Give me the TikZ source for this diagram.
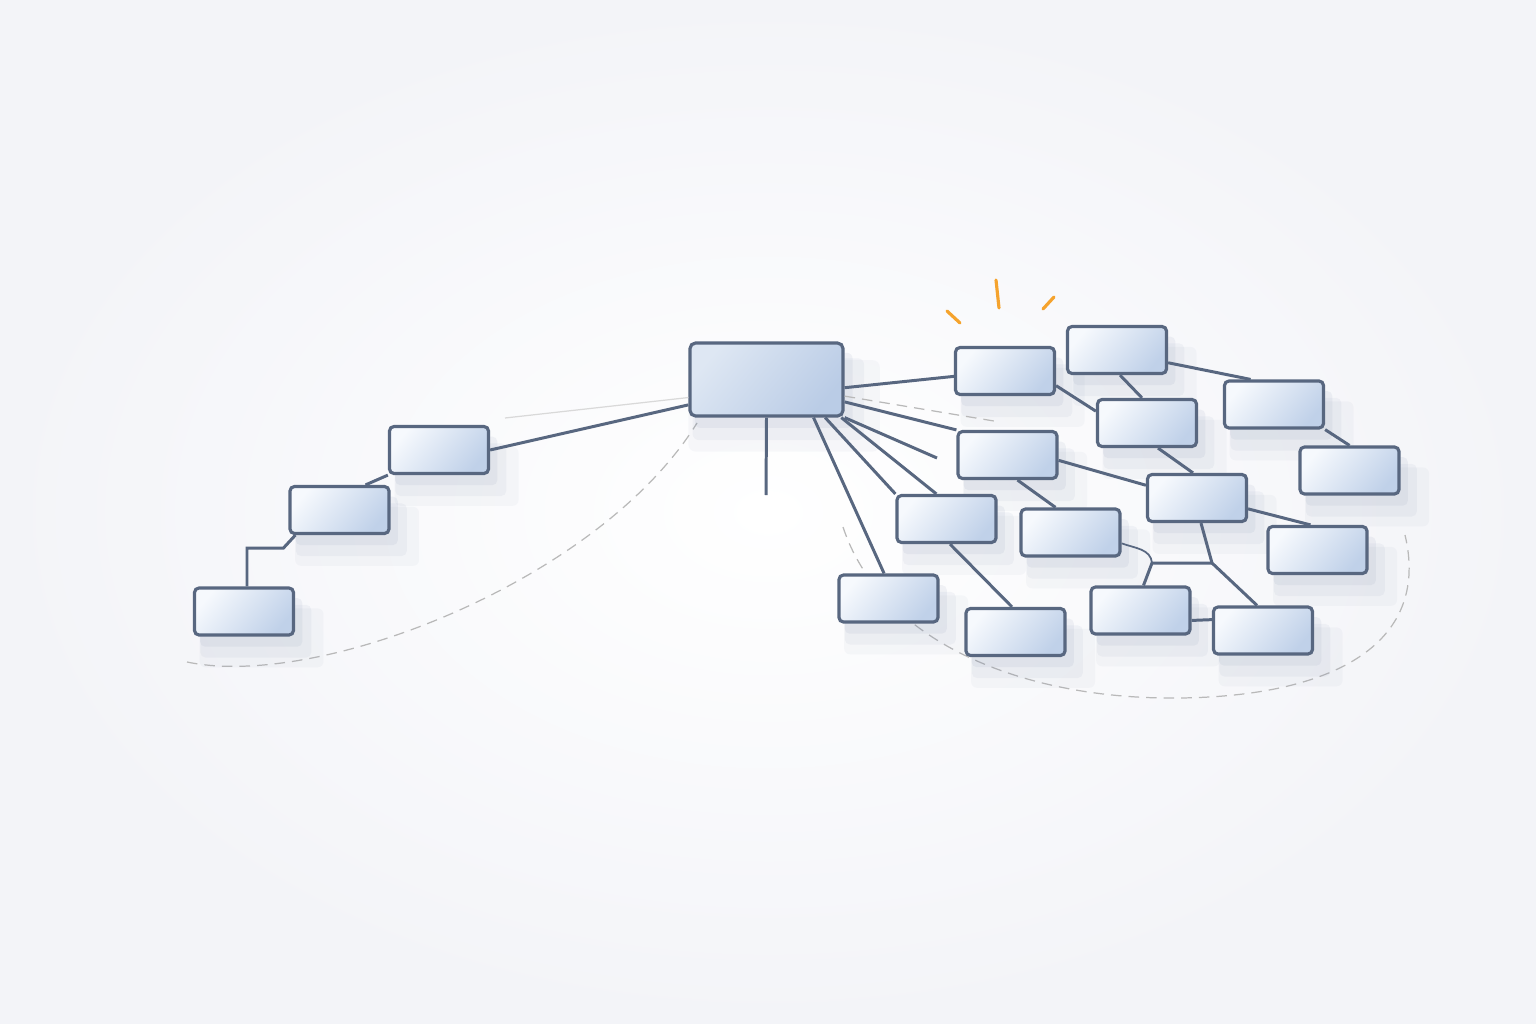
\documentclass[tikz,border=0pt]{standalone}
\usepackage{xcolor}
\usepackage{tikz}
\usetikzlibrary{shadows}

\definecolor{edgeblue}{RGB}{88,103,128}
\definecolor{boxlight}{RGB}{246,249,253}
\definecolor{boxdark}{RGB}{192,209,233}
\definecolor{hublight}{RGB}{222,231,243}
\definecolor{hubdark}{RGB}{186,204,230}
\definecolor{bgedge}{RGB}{243,244,248}
\definecolor{shadowblue}{RGB}{120,135,170}
\definecolor{sparkorange}{RGB}{245,163,45}

\begin{document}
\begin{tikzpicture}[x=0.01cm, y=-0.01cm,
  box/.style={draw=edgeblue, line width=0.9pt, rounded corners=1.3pt, inner sep=0pt,
    minimum width=0.99cm, minimum height=0.47cm,
    shading=axis, top color=boxlight, bottom color=boxdark, shading angle=50,
    drop shadow={fill=shadowblue, opacity=0.05, shadow xshift=4pt, shadow yshift=-6pt, shadow scale=1.25},
    drop shadow={fill=shadowblue, opacity=0.07, shadow xshift=3pt, shadow yshift=-5pt, shadow scale=1.12},
    drop shadow={fill=shadowblue, opacity=0.09, shadow xshift=2pt, shadow yshift=-3pt, shadow scale=1.03}},
  hubbox/.style={box, minimum width=1.53cm, minimum height=0.73cm, rounded corners=1.6pt,
    top color=hublight, bottom color=hubdark, shading angle=50},
  link/.style={draw=edgeblue, line width=0.85pt},
  ghost/.style={draw=gray!30, line width=0.35pt},
  ghostdash/.style={draw=gray!55, line width=0.35pt, dash pattern=on 3pt off 2pt},
  spark/.style={draw=sparkorange, line width=0.9pt, line cap=round}]

% Draw the background
\shade[inner color=white, outer color=bgedge] (0,0) rectangle (1536,1024);
\useasboundingbox (0,0) rectangle (1536,1024);

% Draw the dashed outlines
\draw[ghostdash] (187,662) .. controls (320,690) and (600,580) .. (697,423);
\draw[ghostdash] (843,527) .. controls (880,640) and (1020,700) .. (1180,698)
  .. controls (1340,696) and (1430,640) .. (1405,535);

% Place the boxes
\node[hubbox] (hub) at (766.5,379.5) {};
\node[box] (lone) at (439,450) {};
\node[box] (ltwo) at (339.5,510) {};
\node[box] (lthree) at (244,611.5) {};
\node[box] (ra) at (1005,371) {};
\node[box] (rb) at (1117,350) {};
\node[box] (rc) at (1147,423) {};
\node[box] (rd) at (1274,404.5) {};
\node[box] (re) at (1007.5,455) {};
\node[box] (rf) at (1349.5,470.5) {};
\node[box] (rg) at (1197,498) {};
\node[box] (rh) at (946.5,519) {};
\node[box] (ri) at (1070.5,532.5) {};
\node[box] (rj) at (1317.5,550) {};
\node[box] (rk) at (888.5,598.5) {};
\node[box] (rm) at (1015.5,632) {};
\node[box] (rn) at (1140.5,610.5) {};
\node[box] (rp) at (1263,630.5) {};

% Define the loose ends
\coordinate (drop) at (766,495);
\coordinate (stub) at (937,458);
\coordinate (fork) at (1212,563);
\coordinate (bend) at (1152,563);
\coordinate (fadeleft) at (505,418);
\coordinate (faderight) at (1000,422);

% Draw the faint lines
\draw[ghost] (hub.193) -- (fadeleft);
\draw[ghostdash] (hub.-12) -- (faderight);

% Draw the left branch
\draw[link] (hub.198) -- (lone.east);
\draw[link] (lone.south west) -- ([xshift=0.26cm]ltwo.north);
\draw[link] ([xshift=0.07cm]ltwo.south west) -- ++(-12,13) -| ([xshift=0.03cm]lthree.north);

% Draw the hub links
\draw[link] (hub.south) -- (drop);
\draw[link] (hub.-39) -- (rk.100);
\draw[link] (hub.-33) -- (rh.north west);
\draw[link] (hub.-27) -- (rh.112);
\draw[link] (hub.south east) -- (stub);
\draw[link] (hub.-16) -- (re.north west);
\draw[link] (hub.-6) -- (ra.186);

% Draw the right links
\draw[link] (ra.-16) -- (rc.167);
\draw[link] (rb.-14) -- (rd.133);
\draw[link] ([xshift=0.03cm]rb.south) -- ([xshift=-0.05cm]rc.north);
\draw[link] ([xshift=0.11cm]rc.south) -- ([xshift=-0.04cm]rg.north);
\draw[link] (rd.south east) -- (rf.north);
\draw[link] (re.-6) -- (rg.166);
\draw[link] ([xshift=0.1cm]re.south) -- ([xshift=-0.15cm]ri.north);
\draw[link] (rg.-12) -- ([xshift=-0.07cm]rj.north);
\draw[link] ([xshift=0.04cm]rg.south) -- (fork) -- ([xshift=-0.06cm]rp.north);
\draw[link] (fork) -- (bend) -- ([xshift=0.03cm]rn.north);
\draw[link, line width=0.5pt] (ri.-12) to[out=-20, in=95] (bend);
\draw[link] ([xshift=0.035cm]rh.south) -- ([xshift=-0.035cm]rm.north);
\draw[link] (rn.-11) -- (rp.168);

% Draw the sparks
\draw[spark] (947,311) -- (960,323);
\draw[spark] (996,280) -- (999,308);
\draw[spark] (1043,309) -- (1054,297);

\end{tikzpicture}
\end{document}
